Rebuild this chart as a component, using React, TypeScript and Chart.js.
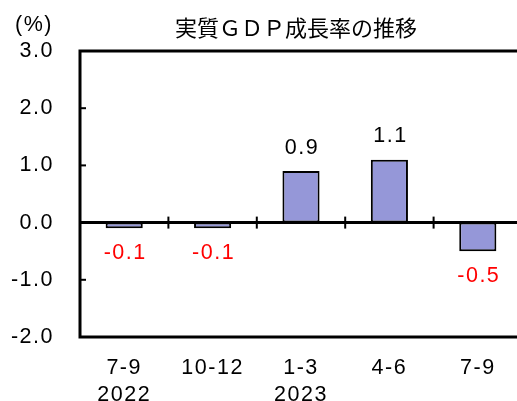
import { useEffect, useRef } from "react";
import { Chart, registerables } from "chart.js";

Chart.register(...registerables);

const quarters = ["7-9", "10-12", "1-3", "4-6", "7-9"];
const years = ["2022", "", "2023", "", ""];
const growth = [-0.1, -0.1, 0.9, 1.1, -0.5];
const yMin = -2;
const yMax = 3;
const yStep = 1;
const chartTitle = "実質ＧＤＰ成長率の推移";
const unitLabel = "(%)";

const NUM_FAMILY = "'Liberation Sans', Arial, sans-serif";
const NUM_SIZE = 21.5;
const NUM_FONT = NUM_SIZE + "px " + NUM_FAMILY;
const CJK_FONT = "22px 'Noto Sans CJK JP', sans-serif";
const LS = "1.5px";

const decor = {
  id: "decor",
  beforeDraw(chart: any) {
    chart.ctx.letterSpacing = LS;
  },
  afterDatasetsDraw(chart: any) {
    const { ctx, chartArea } = chart;
    const xs = chart.scales.x;
    const ys = chart.scales.y;
    const y0 = ys.getPixelForValue(0);
    ctx.save();
    ctx.strokeStyle = "#000";
    ctx.lineWidth = 3;
    ctx.beginPath();
    ctx.moveTo(chartArea.left, y0);
    ctx.lineTo(chartArea.right, y0);
    ctx.stroke();
    ctx.lineWidth = 3;
    ctx.strokeRect(chartArea.left, chartArea.top, chartArea.right - chartArea.left, chartArea.bottom - chartArea.top);
    ctx.lineWidth = 2;
    const n = quarters.length;
    const step = n > 1 ? xs.getPixelForTick(1) - xs.getPixelForTick(0) : 0;
    for (let i = 1; i <= n; i++) {
      const xb = xs.getPixelForTick(i - 1) + step / 2;
      ctx.beginPath();
      ctx.moveTo(xb, y0 - 6);
      ctx.lineTo(xb, y0 + 6);
      ctx.stroke();
    }
    for (let v = yMin + yStep; v < yMax; v += yStep) {
      if (v === 0) continue;
      const yp = ys.getPixelForValue(v);
      ctx.beginPath();
      ctx.moveTo(chartArea.left, yp);
      ctx.lineTo(chartArea.left + 6, yp);
      ctx.stroke();
    }
    ctx.font = NUM_FONT;
    ctx.letterSpacing = LS;
    ctx.textAlign = "center";
    ctx.textBaseline = "middle";
    const meta = chart.getDatasetMeta(0);
    meta.data.forEach((el: any, i: number) => {
      const v = growth[i];
      const txt = v.toFixed(1);
      if (v >= 0) {
        ctx.fillStyle = "#000";
        ctx.fillText(txt, el.x + 1, el.y - 23.5);
      } else {
        ctx.fillStyle = "#FF0000";
        ctx.fillText(txt, el.x + 1, el.y + 25);
      }
    });
    ctx.restore();
  },
  afterDraw(chart: any) {
    const { ctx } = chart;
    ctx.save();
    ctx.fillStyle = "#000";
    ctx.textBaseline = "middle";
    ctx.textAlign = "center";
    ctx.font = CJK_FONT;
    ctx.letterSpacing = "0px";
    ctx.fillText(chartTitle, 296, 28);
    ctx.font = NUM_FONT;
    ctx.letterSpacing = LS;
    ctx.fillText(unitLabel, 34, 25);
    ctx.restore();
  },
};

export default function App() {
  const ref = useRef<HTMLCanvasElement>(null);
  useEffect(() => {
    document.body.style.margin = "0";
    document.body.style.overflow = "hidden";
    const chart = new Chart(ref.current!, {
      type: "bar",
      data: {
        labels: quarters.map((q, i) => (years[i] ? [q, years[i]] : [q])),
        datasets: [
          {
            data: growth,
            backgroundColor: "#9597D8",
            borderColor: "#000",
            borderWidth: 2,
            borderSkipped: false,
            barPercentage: 0.42,
            categoryPercentage: 1,
          },
        ],
      },
      options: {
        responsive: false,
        animation: false,
        layout: { padding: { left: 0, right: 18, top: 51, bottom: 0 } },
        plugins: {
          legend: { display: false },
          tooltip: { enabled: false },
          title: { display: false },
        },
        scales: {
          x: {
            grid: { display: false },
            border: { display: false },
            ticks: {
              color: "#000",
              padding: 10,
              maxRotation: 0,
              autoSkip: false,
              font: { family: NUM_FAMILY, size: NUM_SIZE, lineHeight: 27 / NUM_SIZE },
            },
            afterFit: (s: any) => {
              s.height = 64;
            },
          },
          y: {
            min: yMin,
            max: yMax,
            grid: { display: false },
            border: { display: false },
            ticks: {
              stepSize: yStep,
              color: "#000",
              padding: 18,
              font: { family: NUM_FAMILY, size: NUM_SIZE },
              callback: (v: any) => Number(v).toFixed(1),
            },
            afterFit: (s: any) => {
              s.width = 80;
            },
          },
        },
      },
      plugins: [decor],
    });
    return () => chart.destroy();
  }, []);
  return (
    <div style={{ position: "relative", width: 517, height: 401, overflow: "hidden" }}>
      <canvas
        ref={ref}
        width={540}
        height={401}
        style={{ position: "absolute", left: 0, top: 0, width: 540, height: 401 }}
      />
    </div>
  );
}
